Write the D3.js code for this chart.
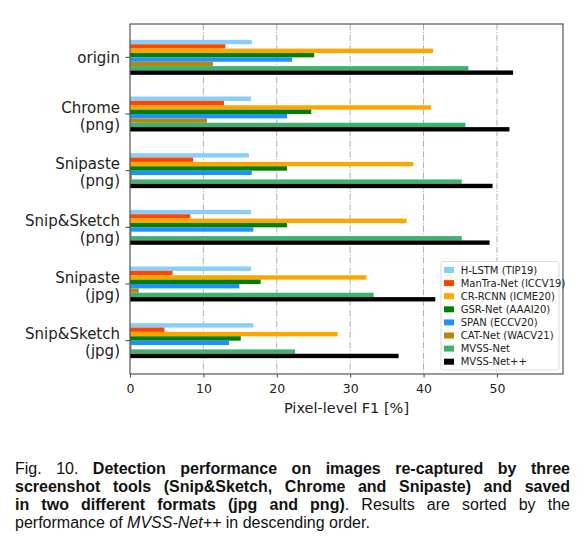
<!DOCTYPE html>
<html>
<head>
<meta charset="utf-8">
<script src="https://cdn.jsdelivr.net/npm/d3@7"></script>
<style>
  body { margin: 0; background: #fff; }
  svg text { font-family: "DejaVu Sans", sans-serif; }
  svg .caption text { font-family: "Liberation Sans", Arial, sans-serif; }
</style>
</head>
<body>
<svg id="chart" width="586" height="560"></svg>
<script>
// groups (top to bottom), each label split in lines
const groups = [
  ["origin"],
  ["Chrome", "(png)"],
  ["Snipaste", "(png)"],
  ["Snip&Sketch", "(png)"],
  ["Snipaste", "(jpg)"],
  ["Snip&Sketch", "(jpg)"]
];
const methods = [
  "H-LSTM (TIP19)", "ManTra-Net (ICCV19)", "CR-RCNN (ICME20)", "GSR-Net (AAAI20)",
  "SPAN (ECCV20)", "CAT-Net (WACV21)", "MVSS-Net", "MVSS-Net++"
];
const colors = ["#87cefa", "#ff4500", "#ffa500", "#008000", "#1e90ff", "#b8860b", "#3cb371", "#000000"];

// pixel-level F1 [%] per method, one value per group
const hlstm  = [16.6, 16.5, 16.2, 16.5, 16.5, 16.8];
const mantra = [13.0, 12.8, 8.6, 8.2, 5.8, 4.7];
const crrcnn = [41.3, 41.0, 38.6, 37.7, 32.2, 28.3];
const gsr    = [25.1, 24.7, 21.4, 21.4, 17.8, 15.1];
const span   = [22.1, 21.4, 16.6, 16.8, 14.9, 13.5];
const catnet = [11.3, 10.5, 0.25, 0.2, 1.2, 0.2];
const mvss   = [46.1, 45.7, 45.2, 45.2, 33.2, 22.5];
const mvsspp = [52.2, 51.7, 49.4, 49.0, 41.6, 36.6];
const values = [hlstm, mantra, crrcnn, gsr, span, catnet, mvss, mvsspp];

const xTicks = [0, 10, 20, 30, 40, 50];
const xLabel = "Pixel-level F1 [%]";

const svg = d3.select("#chart");
const plotLeft = 130, plotRight = 563, plotTop = 24, plotBottom = 374;

const x = d3.scaleLinear().domain([0, 59]).range([plotLeft, plotRight]);
const y = d3.scaleBand()
  .domain(d3.range(groups.length))
  .range([plotTop, plotBottom])
  .paddingInner(0.383)
  .paddingOuter(0.28);
const yInner = d3.scaleBand().domain(d3.range(methods.length)).range([0, y.bandwidth()]);

// dash-dot grid
svg.append("g")
  .selectAll("line")
  .data(xTicks.filter(d => d > 0))
  .join("line")
  .attr("x1", d => x(d)).attr("x2", d => x(d))
  .attr("y1", plotTop).attr("y2", plotBottom)
  .attr("stroke", "#b0b0b0")
  .attr("stroke-width", 1)
  .attr("stroke-dasharray", "6.4,1.6,1,1.6");

// bars
const barData = [];
values.forEach((vals, m) => vals.forEach((v, g) => barData.push({ m, g, v })));
svg.append("g")
  .selectAll("rect")
  .data(barData)
  .join("rect")
  .attr("x", x(0))
  .attr("y", d => y(d.g) + yInner(d.m))
  .attr("width", d => x(d.v) - x(0))
  .attr("height", yInner.bandwidth())
  .attr("fill", d => colors[d.m]);

// x axis
const xAxis = svg.append("g")
  .attr("transform", "translate(0," + plotBottom + ")")
  .call(d3.axisBottom(x).tickValues(xTicks).tickSize(3.5).tickPadding(7));
xAxis.select(".domain").remove();
xAxis.selectAll("line").attr("stroke", "#444").attr("stroke-width", 1);
xAxis.selectAll("text").attr("font-size", 12.5).attr("fill", "#222");

svg.append("text")
  .attr("x", (plotLeft + plotRight) / 2)
  .attr("y", 413)
  .attr("text-anchor", "middle")
  .attr("font-size", 14.5)
  .attr("fill", "#222")
  .text(xLabel);

// y axis with multi-line labels
const yAxis = svg.append("g")
  .attr("transform", "translate(" + plotLeft + ",0)")
  .call(d3.axisLeft(y).tickSize(4.5).tickFormat(""));
yAxis.select(".domain").remove();
yAxis.selectAll("line").attr("stroke", "#444").attr("stroke-width", 1);
yAxis.selectAll(".tick").each(function (g) {
  const lines = groups[g];
  const t = d3.select(this).select("text")
    .attr("x", -10)
    .attr("dy", null)
    .attr("y", lines.length === 1 ? 5.7 : -1.2)
    .attr("text-anchor", "end")
    .attr("font-size", 15)
    .attr("fill", "#222");
  lines.forEach((s, i) => {
    t.append("tspan").attr("x", -10).attr("dy", i === 0 ? 0 : 16.8).text(s);
  });
});

// frame
svg.append("rect")
  .attr("x", plotLeft).attr("y", plotTop)
  .attr("width", plotRight - plotLeft).attr("height", plotBottom - plotTop)
  .attr("fill", "none")
  .attr("stroke", "#555")
  .attr("stroke-width", 1.2);

// legend
const legend = svg.append("g").attr("transform", "translate(441,261.5)");
legend.append("rect")
  .attr("width", 118).attr("height", 108.5)
  .attr("rx", 2)
  .attr("fill", "#fff").attr("fill-opacity", 0.85)
  .attr("stroke", "#d0d0d0").attr("stroke-width", 0.8);
const item = legend.selectAll("g.item")
  .data(methods)
  .join("g")
  .attr("class", "item")
  .attr("transform", (d, i) => "translate(0," + (8.5 + i * 13.1) + ")");
item.append("rect")
  .attr("x", 3).attr("y", -3).attr("width", 10).attr("height", 6)
  .attr("fill", (d, i) => colors[i]);
item.append("text")
  .attr("x", 19.7).attr("y", 3.5)
  .attr("font-size", 10)
  .attr("fill", "#222")
  .text(d => d);

// caption, justified between cx0 and cx1
const captionLines = [
  [[["Fig."]], [["10."]], [["Detection", "b"]], [["performance", "b"]], [["on", "b"]], [["images", "b"]],
   [["re-captured", "b"]], [["by", "b"]], [["three", "b"]]],
  [[["screenshot", "b"]], [["tools", "b"]], [["(Snip&Sketch,", "b"]], [["Chrome", "b"]], [["and", "b"]],
   [["Snipaste)", "b"]], [["and", "b"]], [["saved", "b"]]],
  [[["in", "b"]], [["two", "b"]], [["different", "b"]], [["formats", "b"]], [["(jpg", "b"]], [["and", "b"]],
   [["png)", "b"], ["."]], [["Results"]], [["are"]], [["sorted"]], [["by"]], [["the"]]],
  [[["performance"]], [["of"]], [["MVSS-Net++", "i"]], [["in"]], [["descending"]], [["order."]]]
];
const cx0 = 15, cx1 = 570, cy0 = 473.5, cLine = 18;
const cap = svg.append("g").attr("class", "caption");
captionLines.forEach((words, li) => {
  const texts = words.map(segs => {
    const t = cap.append("text").attr("y", cy0 + li * cLine).attr("font-size", 16).attr("fill", "#111");
    segs.forEach(([s, st]) => {
      t.append("tspan")
        .attr("font-weight", st === "b" ? "bold" : null)
        .attr("font-style", st === "i" ? "italic" : null)
        .text(s);
    });
    return t;
  });
  const widths = texts.map(t => t.node().getComputedTextLength());
  const total = d3.sum(widths);
  const last = li === captionLines.length - 1;
  const gap = last ? 4.45 : (cx1 - cx0 - total) / (texts.length - 1);
  let pos = cx0;
  texts.forEach((t, i) => {
    t.attr("x", pos);
    pos += widths[i] + gap;
  });
});
</script>
</body>
</html>
